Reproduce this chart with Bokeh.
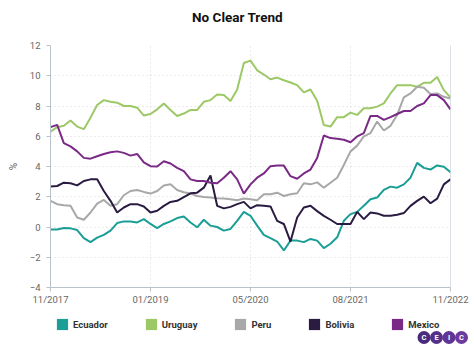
from bokeh.plotting import figure
from bokeh.layouts import column
from bokeh.models import Legend, LegendItem, Label, Span, FixedTicker
from bokeh.embed import file_html
from bokeh.resources import INLINE

months = list(range(61))
tick_pos = [0, 15, 30, 45, 60]
tick_labels = ["11/2017", "01/2019", "05/2020", "08/2021", "11/2022"]

ecuador = [-0.17, -0.17, -0.07, -0.09, -0.2, -0.74, -1.0, -0.7, -0.52, -0.24, 0.26, 0.37, 0.37, 0.3, 0.52,
           0.2, -0.07, 0.2, 0.37, 0.59, 0.7, 0.3, -0.02, 0.48, 0.09, 0.0, -0.24, -0.13, 0.41, 1.0,
           0.74, 0.09, -0.52, -0.74, -0.96, -1.55, -0.9, -0.9, -1.0, -0.79, -0.9, -1.4, -1.11, -0.68, 0.41,
           0.85, 1.0, 1.4, 1.84, 1.95, 2.45, 2.67, 2.6, 2.82, 3.26, 4.24, 3.91, 3.8, 4.07, 3.98, 3.63]
uruguay = [6.31, 6.6, 6.69, 7.04, 6.64, 6.47, 7.23, 8.07, 8.39, 8.28, 8.22, 8.0, 8.0, 7.89, 7.37,
           7.47, 7.78, 8.17, 7.74, 7.34, 7.5, 7.74, 7.74, 8.28, 8.39, 8.76, 8.72, 8.33, 9.09, 10.84,
           11.0, 10.36, 10.08, 9.77, 9.88, 9.7, 9.55, 9.38, 8.9, 9.09, 8.35, 6.75, 6.64, 7.26, 7.26,
           7.56, 7.41, 7.85, 7.85, 7.96, 8.17, 8.83, 9.38, 9.38, 9.38, 9.27, 9.53, 9.53, 9.92, 9.05, 8.57]
peru = [1.73, 1.51, 1.44, 1.4, 0.63, 0.48, 0.96, 1.55, 1.79, 1.4, 1.51, 2.1, 2.38, 2.45, 2.32,
        2.21, 2.38, 2.75, 2.82, 2.45, 2.3, 2.21, 2.05, 1.99, 1.95, 1.9, 1.88, 1.84, 1.77, 1.88,
        1.84, 1.77, 2.16, 2.16, 2.27, 2.05, 2.16, 2.23, 2.89, 2.82, 2.95, 2.6, 2.93, 3.26, 4.1,
        5.0, 5.38, 5.99, 6.21, 6.97, 6.38, 6.69, 7.41, 8.57, 8.83, 9.27, 9.2, 8.79, 8.83, 8.61, 8.5]
bolivia = [2.67, 2.71, 2.93, 2.89, 2.75, 3.04, 3.15, 3.15, 2.38, 1.73, 0.96, 1.29, 1.51, 1.51, 1.36,
           0.96, 1.07, 1.4, 1.66, 1.73, 1.98, 2.23, 2.27, 2.6, 3.41, 1.4, 1.23, 1.33, 1.51, 1.66,
           1.23, 1.44, 1.4, 1.36, 0.41, 0.2, -0.96, 0.63, 1.29, 1.4, 1.05, 0.74, 0.48, 0.2, 0.2,
           0.2, 1.0, 0.52, 0.96, 0.9, 0.74, 0.74, 0.81, 0.92, 1.4, 1.73, 2.01, 1.57, 1.88, 2.82, 3.15]
mexico = [6.6, 6.75, 5.55, 5.33, 5.0, 4.57, 4.52, 4.68, 4.83, 4.94, 5.0, 4.9, 4.72, 4.83, 4.28,
          4.02, 4.0, 4.35, 4.2, 3.91, 3.69, 3.15, 3.04, 3.04, 2.93, 2.89, 3.26, 3.69, 3.15, 2.21,
          2.82, 3.26, 3.54, 4.02, 4.06, 4.06, 3.36, 3.19, 3.54, 3.8, 4.57, 6.05, 5.88, 5.84, 5.77,
          5.6, 5.99, 6.21, 7.34, 7.34, 7.08, 7.26, 7.47, 7.67, 7.67, 8.0, 8.17, 8.72, 8.72, 8.39, 7.78]

names = ["Ecuador", "Uruguay", "Peru", "Bolivia", "Mexico"]
colors = ["#1a9e96", "#9cc866", "#a8a8a8", "#2a1b42", "#7a2a86"]
series = [ecuador, uruguay, peru, bolivia, mexico]

FONT = "Roboto"
NAN = float("nan")

# ---- title strip ----
top = figure(width=474, height=37, output_backend="svg", toolbar_location=None,
             x_axis_location=None, y_axis_location=None, min_border=0, frame_align=False,
             x_range=(0, 1), y_range=(0, 1))
top.outline_line_color = None
top.grid.visible = False
top.add_layout(Label(x=237, y=21, x_units="screen", y_units="screen", text="No Clear Trend",
                     text_align="center", text_baseline="middle", text_font=FONT,
                     text_font_style="bold", text_font_size="13.5px", text_color="#111111"))

# ---- main chart ----
p = figure(width=474, height=270, output_backend="svg", toolbar_location=None,
           x_range=(0, 60), y_range=(-4, 12), frame_align=False,
           min_border_left=50, min_border_right=24, min_border_top=8, min_border_bottom=18)
p.outline_line_color = None

for ys, c in zip(series, colors):
    p.line(months, ys, line_color=c, line_width=2)

p.xaxis.ticker = FixedTicker(ticks=tick_pos)
p.xaxis.major_label_overrides = {k: v for k, v in zip(tick_pos, tick_labels)}
p.yaxis.ticker = FixedTicker(ticks=[-4, -2, 0, 2, 4, 6, 8, 10, 12])
for ax in (p.xaxis, p.yaxis):
    ax.axis_line_color = "#b9c2cb"
    ax.major_tick_line_color = "#b9c2cb"
    ax.minor_tick_line_color = None
    ax.major_tick_in = 0
    ax.major_tick_out = 4
    ax.major_label_text_font = FONT
    ax.major_label_text_font_size = "9.5px"
    ax.major_label_text_color = "#666666"
p.xaxis.major_label_standoff = 2
p.yaxis.major_label_standoff = 6
p.yaxis.axis_label = "%"
p.yaxis.axis_label_text_font = FONT
p.yaxis.axis_label_text_font_size = "10px"
p.yaxis.axis_label_text_font_style = "normal"
p.yaxis.axis_label_text_color = "#666666"
p.yaxis.axis_label_standoff = 8

for g in (p.xgrid, p.ygrid):
    g.grid_line_color = "#d6d6d6"
    g.grid_line_dash = "1 3"
    g.grid_line_width = 1

p.add_layout(Span(location=60, dimension="height", line_color="#b9c2cb", line_width=1))

# ---- legend + logo strip ----
bot = figure(width=474, height=46, output_backend="svg", toolbar_location=None,
             x_axis_location=None, y_axis_location=None, min_border=0, frame_align=False,
             x_range=(0, 474), y_range=(46, 0))
bot.outline_line_color = None
bot.grid.visible = False

items = []
for n, c in zip(names, colors):
    r = bot.quad(left=[NAN], right=[NAN], top=[NAN], bottom=[NAN], fill_color=c, line_color=None)
    items.append(LegendItem(label=n, renderers=[r]))
legend = Legend(items=items, orientation="horizontal", location=(55, 22),
                glyph_width=14, glyph_height=14, label_height=14, label_standoff=4,
                spacing=36, padding=5, margin=0, border_line_color=None,
                background_fill_alpha=0,
                label_text_font=FONT, label_text_font_style="bold",
                label_text_font_size="9.5px", label_text_color="#333333")
bot.add_layout(legend)

# CEIC logo (decoration)
logo_letters = ["C", "E", "I", "C"]
logo_cols = ["#4a2a7a", "#55308a", "#603596", "#6d3aa0"]
logo_x = [423.5, 436, 448.5, 461]
bot.scatter(x=logo_x, y=[30] * 4, size=13, marker="circle", fill_color=logo_cols, line_color=None)
bot.text(x=logo_x, y=[30] * 4, text=logo_letters, text_align="center", text_baseline="middle",
         text_color="white", text_font_size="7.5px", text_font_style="bold",
         text_font={"value": FONT})

layout = column(top, p, bot, spacing=0)
open("out.html", "w").write(file_html(layout, INLINE))
